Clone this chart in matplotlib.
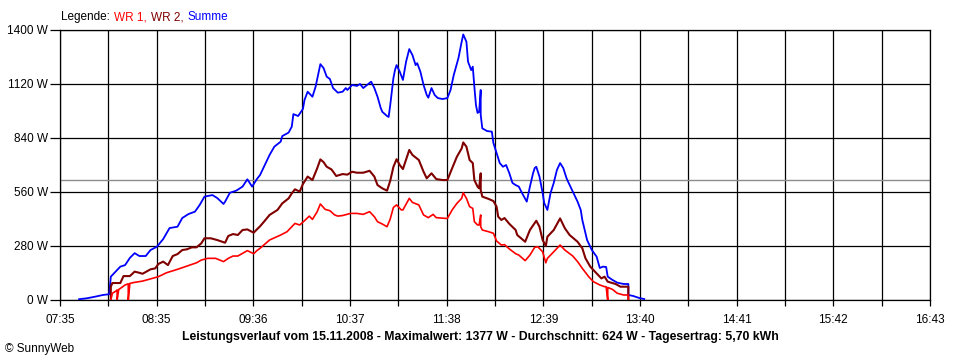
import matplotlib
matplotlib.use('Agg')
import matplotlib.pyplot as plt
from matplotlib.ticker import FixedLocator, NullFormatter

plt.rcParams['font.family'] = ['Liberation Sans', 'DejaVu Sans']

# ======== Daten ========
tick_labels = ["07:35", "08:35", "09:36", "10:37", "11:38", "12:39", "13:40", "14:41", "15:42", "16:43"]
y_ticks = [0, 280, 560, 840, 1120, 1400]
avg_w = 624

sum_t = ["07:47", "07:52", "07:57", "08:02", "08:06", "08:07", "08:13", "08:16", "08:19", "08:22", "08:25", "08:29",
         "08:32", "08:36", "08:40", "08:44", "08:49", "08:52", "08:56", "09:00", "09:03", "09:06", "09:11", "09:14",
         "09:18", "09:19", "09:22", "09:26", "09:30", "09:33", "09:36", "09:39", "09:41", "09:44", "09:47", "09:50",
         "09:54", "09:55", "09:59", "10:01", "10:02", "10:05", "10:08", "10:09", "10:11", "10:14", "10:16", "10:18",
         "10:19", "10:21", "10:23", "10:25", "10:27", "10:30", "10:33", "10:35", "10:36", "10:39", "10:42", "10:44",
         "10:46", "10:51", "10:53", "10:55", "10:57", "10:58", "11:01", "11:02", "11:03", "11:05", "11:06", "11:07",
         "11:09", "11:11", "11:13", "11:15", "11:17", "11:19", "11:20", "11:22", "11:24", "11:26", "11:27", "11:29",
         "11:31", "11:33", "11:36", "11:39", "11:41", "11:43", "11:46", "11:48", "11:49", "11:51", "11:52", "11:54",
         "11:55", "11:56", "11:57", "11:58", "11:59", "12:00", "12:00", "12:01", "12:04", "12:07", "12:08", "12:10",
         "12:12", "12:14", "12:16", "12:18", "12:20", "12:22", "12:24", "12:26", "12:29", "12:31", "12:33", "12:34",
         "12:35", "12:37", "12:39", "12:40", "12:42", "12:44", "12:46", "12:48", "12:50", "12:52", "12:54", "12:55",
         "12:58", "13:01", "13:03", "13:04", "13:07", "13:10", "13:13", "13:15", "13:17", "13:19", "13:20", "13:23",
         "13:26", "13:30", "13:33", "13:33", "13:36", "13:40", "13:43"]
sum_w = [4, 9, 17, 26, 30, 121, 173, 181, 218, 243, 228, 228,
         259, 276, 316, 373, 380, 425, 446, 458, 493, 536, 544, 529,
         498, 510, 556, 567, 588, 626, 588, 627, 648, 700, 752, 795,
         821, 850, 868, 899, 964, 954, 990, 1037, 1080, 1054, 1106, 1184,
         1223, 1203, 1158, 1146, 1099, 1075, 1080, 1099, 1089, 1115, 1110, 1120,
         1099, 1132, 1099, 1054, 996, 976, 954, 949, 1010, 1150, 1192, 1218,
         1184, 1141, 1236, 1301, 1270, 1218, 1228, 1184, 1115, 1063, 1049, 1099,
         1063, 1047, 1042, 1047, 1089, 1166, 1255, 1339, 1377, 1339, 1236, 1192,
         1210, 1106, 1011, 970, 975, 1089, 960, 890, 876, 873, 814, 762,
         710, 691, 700, 658, 607, 596, 588, 555, 510, 588, 658, 684,
         691, 640, 555, 503, 467, 555, 607, 674, 710, 684, 633, 614,
         562, 510, 467, 415, 311, 259, 225, 166, 173, 171, 121, 104,
         90, 83, 83, 26, 21, 10, 5]

wr1_t = ["08:07", "08:08", "08:10", "08:11", "08:11", "08:12", "08:13", "08:16", "08:18", "08:18", "08:19", "08:21",
         "08:27", "08:34", "08:37", "08:42", "08:49", "08:55", "09:01", "09:04", "09:08", "09:13", "09:18", "09:21",
         "09:24", "09:27", "09:33", "09:37", "09:39", "09:41", "09:47", "09:54", "09:58", "10:01", "10:03", "10:06",
         "10:09", "10:12", "10:14", "10:17", "10:19", "10:22", "10:25", "10:28", "10:30", "10:33", "10:38", "10:42",
         "10:46", "10:50", "10:53", "10:55", "10:58", "11:01", "11:03", "11:05", "11:07", "11:10", "11:11", "11:15",
         "11:17", "11:21", "11:24", "11:27", "11:30", "11:32", "11:38", "11:39", "11:42", "11:45", "11:48", "11:49",
         "11:51", "11:53", "11:55", "11:56", "11:58", "11:59", "12:00", "12:00", "12:01", "12:05", "12:08", "12:10",
         "12:13", "12:15", "12:18", "12:22", "12:24", "12:28", "12:31", "12:34", "12:36", "12:39", "12:41", "12:42",
         "12:46", "12:50", "12:53", "12:58", "13:01", "13:04", "13:08", "13:11", "13:15", "13:18", "13:19", "13:20",
         "13:20", "13:23", "13:26", "13:30", "13:33", "13:33"]
wr1_w = [0, 35, 45, 52, 0, 55, 60, 78, 84, 0, 86, 90,
         98, 114, 121, 141, 159, 176, 193, 207, 216, 216, 199, 216,
         228, 228, 256, 240, 256, 268, 311, 337, 354, 380, 397, 389,
         411, 435, 418, 458, 498, 470, 463, 441, 435, 438, 449, 449,
         444, 458, 432, 406, 394, 380, 420, 480, 493, 467, 467, 527,
         506, 493, 441, 427, 444, 427, 423, 423, 467, 501, 527, 556,
         527, 484, 475, 406, 389, 389, 441, 380, 363, 354, 346, 306,
         285, 287, 265, 240, 233, 204, 233, 273, 276, 250, 193, 216,
         250, 285, 259, 228, 199, 164, 121, 95, 78, 69, 69, 0,
         65, 55, 35, 26, 26, 0]

wr2_t = ["08:07", "08:07", "08:08", "08:13", "08:15", "08:19", "08:22", "08:25", "08:27", "08:32", "08:35", "08:37",
         "08:40", "08:43", "08:46", "08:49", "08:52", "08:55", "08:58", "09:01", "09:04", "09:06", "09:10", "09:14",
         "09:19", "09:21", "09:24", "09:27", "09:30", "09:33", "09:37", "09:39", "09:41", "09:44", "09:47", "09:52",
         "09:55", "09:59", "10:01", "10:03", "10:06", "10:08", "10:11", "10:14", "10:17", "10:19", "10:21", "10:23",
         "10:26", "10:29", "10:33", "10:36", "10:39", "10:42", "10:46", "10:50", "10:53", "10:55", "10:58", "11:01",
         "11:03", "11:05", "11:07", "11:09", "11:11", "11:15", "11:17", "11:21", "11:24", "11:26", "11:29", "11:32",
         "11:36", "11:39", "11:42", "11:45", "11:48", "11:49", "11:51", "11:53", "11:55", "11:56", "11:58", "11:59",
         "12:00", "12:00", "12:01", "12:05", "12:08", "12:10", "12:11", "12:13", "12:15", "12:18", "12:22", "12:23",
         "12:28", "12:31", "12:35", "12:37", "12:39", "12:41", "12:42", "12:46", "12:50", "12:53", "12:56", "13:01",
         "13:04", "13:06", "13:09", "13:13", "13:16", "13:18", "13:20", "13:25", "13:28", "13:33", "13:33"]
wr2_w = [0, 69, 88, 88, 124, 124, 147, 141, 136, 159, 164, 187,
         199, 181, 228, 238, 259, 263, 273, 273, 294, 320, 320, 311,
         297, 332, 342, 337, 363, 366, 349, 366, 382, 411, 441, 467,
         501, 527, 553, 574, 562, 601, 640, 622, 683, 729, 715, 691,
         677, 643, 653, 650, 665, 660, 660, 670, 640, 596, 579, 567,
         618, 690, 730, 700, 679, 778, 752, 726, 665, 631, 657, 627,
         622, 622, 683, 743, 786, 817, 795, 726, 710, 622, 588, 579,
         657, 570, 536, 524, 513, 484, 432, 415, 425, 395, 363, 337,
         302, 363, 411, 380, 311, 280, 328, 363, 423, 372, 337, 302,
         268, 216, 173, 138, 112, 121, 95, 83, 69, 69, 0]


def tmin(s):
    h, m = s.split(':')
    return int(h) * 60 + int(m)


# ======== Zeichnen ========
fig = plt.figure(figsize=(9.6, 3.6), dpi=100, facecolor='white')
ax = fig.add_axes([60 / 960, 60 / 360, 870 / 960, 270 / 360])

t0, t1 = tmin(tick_labels[0]), tmin(tick_labels[-1])
step = (t1 - t0) / (len(tick_labels) - 1)
major = [t0 + i * step for i in range(len(tick_labels))]
minor = [t0 + (i + 0.5) * step for i in range(len(tick_labels) - 1)]

ax.axhline(avg_w, color='#8c8c8c', lw=1.0, zorder=1)
ax.plot([tmin(t) for t in sum_t], sum_w, color='#0000ff', lw=1.3, zorder=3)
ax.plot([tmin(t) for t in wr2_t], wr2_w, color='#800000', lw=1.5, zorder=3)
ax.plot([tmin(t) for t in wr1_t], wr1_w, color='#ff0000', lw=1.2, zorder=3)

ax.set_xlim(t0, t1)
ax.set_ylim(0, 1400)
ax.xaxis.set_major_locator(FixedLocator(major))
ax.xaxis.set_minor_locator(FixedLocator(minor))
ax.xaxis.set_minor_formatter(NullFormatter())
ax.set_xticklabels(tick_labels)
ax.set_yticks(y_ticks)
ax.set_yticklabels([f"{v} W" for v in y_ticks])

ax.grid(which='both', color='black', lw=0.9, zorder=0)
ax.set_axisbelow(True)
for sp in ax.spines.values():
    sp.set_color('black'); sp.set_linewidth(0.9)
ax.tick_params(axis='x', which='both', direction='out', length=4, width=0.9, pad=6, labelsize=8.5)
ax.tick_params(axis='y', which='major', direction='out', length=7, width=0.9, pad=1.5, labelsize=8.5)

# Legende oben, Teile hintereinander
ly = 1 - 17 / 360
fig.canvas.draw()
rend = fig.canvas.get_renderer()
x = 61
for txt, col in [('Legende:', 'black'), ('WR 1,', '#ff0000'), ('WR 2,', '#800000'), ('Summe', '#0000ff')]:
    t = fig.text(x / 960, ly, txt, color=col, fontsize=8.5, va='center')
    x = t.get_window_extent(rend).x1 + 4

fig.text(0.5, 1 - 337 / 360,
         'Leistungsverlauf vom 15.11.2008 - Maximalwert: 1377 W - Durchschnitt: 624 W - Tagesertrag: 5,70 kWh',
         ha='center', va='center', fontsize=8.8, fontweight='bold')
fig.text(5 / 960, 1 - 349 / 360, '© SunnyWeb', fontsize=8.5, va='center')

fig.savefig('out.png', dpi=100)
